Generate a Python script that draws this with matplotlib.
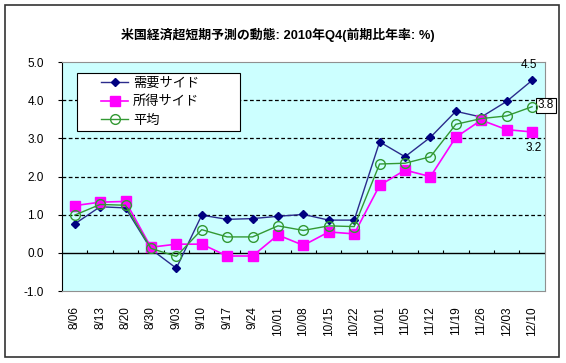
import numpy as np
import matplotlib
matplotlib.use('Agg')
from matplotlib import pyplot as plt
from matplotlib.patches import Rectangle
from matplotlib.lines import Line2D
from matplotlib.legend_handler import HandlerLine2D

plt.rcParams['font.family'] = ['Liberation Sans', 'Noto Sans CJK JP', 'DejaVu Sans']

dates = ['8/06', '8/13', '8/20', '8/30', '9/03', '9/10', '9/17', '9/24', '10/01', '10/08',
         '10/15', '10/22', '11/01', '11/05', '11/12', '11/19', '11/26', '12/03', '12/10']
demand = [0.76, 1.21, 1.18, 0.10, -0.40, 0.99, 0.88, 0.90, 0.96, 1.01,
          0.86, 0.86, 2.91, 2.52, 3.03, 3.71, 3.56, 3.97, 4.52]
income = [1.24, 1.33, 1.35, 0.15, 0.23, 0.23, -0.08, -0.08, 0.47, 0.20,
          0.55, 0.50, 1.77, 2.17, 2.00, 3.03, 3.48, 3.23, 3.17]
average = [0.99, 1.27, 1.25, 0.12, -0.09, 0.61, 0.42, 0.42, 0.71, 0.59,
           0.71, 0.69, 2.33, 2.35, 2.52, 3.37, 3.52, 3.59, 3.83]
names = ['需要サイド', '所得サイド', '平均']
title = '米国経済超短期予測の動態: 2010年Q4(前期比年率: %)'

fig = plt.figure(figsize=(5.66, 3.63), dpi=100)
fig.patches.append(Rectangle((0.009, 0.017), 0.979, 0.968, transform=fig.transFigure,
                             fill=False, edgecolor='#333333', linewidth=1.2))
ax = fig.add_axes([0.1095, 0.198, 0.853, 0.631])
ax.set_facecolor('#CCFFFF')

x = np.arange(len(dates))
ax.plot(x, demand, color='#2B2B8C', linewidth=1.0, marker='D', markersize=4.5,
        markerfacecolor='#000080', markeredgecolor='#000080', label=names[0], zorder=3)
ax.plot(x, income, color='#FF00FF', linewidth=1.2, marker='s', markersize=6.5,
        markerfacecolor='#FF00FF', markeredgecolor='#FF00FF', label=names[1], zorder=3)
ax.plot(x, average, color='#339933', linewidth=1.0, marker='o', markersize=7,
        markerfacecolor='none', markeredgecolor='#339933', label=names[2], zorder=4)

ax.set_xlim(-0.5, len(dates) - 0.5)
ax.set_ylim(-1, 5)
ax.set_yticks(np.arange(-1, 6))
ax.set_yticklabels(['%.1f' % v for v in np.arange(-1, 6)], fontsize=8.5)
ax.tick_params(axis='y', length=3, pad=10)
for v in range(1, 5):
    ax.axhline(v, color='black', linestyle=(0, (3, 2)), linewidth=0.9, zorder=1)
ax.axhline(0, color='black', linewidth=1.0, zorder=2)
# small tick marks on the zero line between categories
ax.vlines(np.arange(len(dates) + 1) - 0.5, 0, 0.08, color='black', linewidth=0.8, zorder=2)

ax.set_xticks(x)
ax.set_xticklabels(dates, rotation=90, fontsize=8.5)
ax.tick_params(axis='x', length=0, pad=11)

for s in ['top', 'right', 'bottom']:
    ax.spines[s].set_color('#909090')
ax.spines['left'].set_color('black')

ax.annotate('%.1f' % demand[-1], (x[-1], demand[-1]), xytext=(-2, 7), textcoords='offset points',
            ha='center', va='bottom', fontsize=8.5)
ax.annotate('%.1f' % average[-1], (x[-1], average[-1]), xytext=(4, 1), textcoords='offset points',
            ha='left', va='center', fontsize=8.5,
            bbox=dict(boxstyle='square,pad=0.15', facecolor='white', edgecolor='black', linewidth=0.8))
ax.annotate('%.1f' % income[-1], (x[-1], income[-1]), xytext=(1, -7), textcoords='offset points',
            ha='center', va='top', fontsize=8.5)

hmap = {Line2D: HandlerLine2D(xpad=1.5)}
leg = ax.legend(loc='upper left', bbox_to_anchor=(0.031, 0.3, 0.338, 0.652), mode='expand',
                fontsize=9.5, frameon=True, fancybox=False, edgecolor='black', framealpha=1,
                borderpad=0.35, handlelength=3.5, handletextpad=0.4, labelspacing=0.45,
                borderaxespad=0, handler_map=hmap)
leg.get_frame().set_linewidth(0.8)

fig.text(0.49, 0.905, title, ha='center', va='center', fontsize=9.3, fontweight='bold')

plt.savefig('out.png', dpi=100)
